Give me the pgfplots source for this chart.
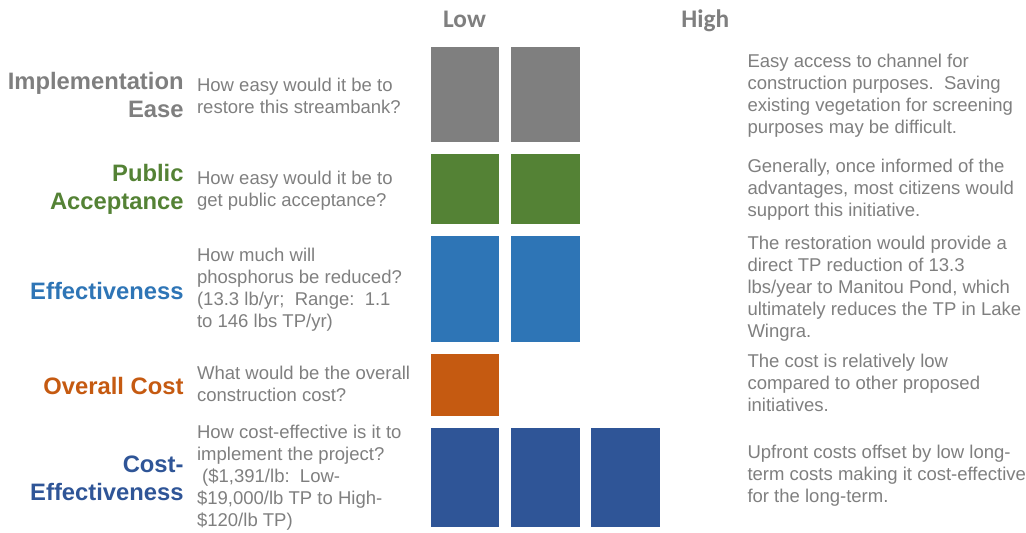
\documentclass[border=0pt]{standalone}
\usepackage{pgfplots}
\pgfplotsset{compat=1.18}
\usepackage{fontspec}
\setmainfont{Liberation Sans}
\newfontfamily\headfont{Carlito}

\definecolor{implc}{HTML}{7F7F7F}
\definecolor{pubc}{HTML}{548235}
\definecolor{effc}{HTML}{2E75B6}
\definecolor{costc}{HTML}{C55A11}
\definecolor{cec}{HTML}{2F5597}
\definecolor{txtc}{HTML}{7F7F7F}

\begin{document}
\begin{tikzpicture}
\begin{scope}[x=0.75pt,y=-0.75pt]
\useasboundingbox (0,0) rectangle (1026,533);
\end{scope}

% rating blocks: x in rating steps (each block 0.857 wide), y in rows from the top
\begin{axis}[at={(0,0)}, anchor=north west,
  x=60.375pt, y=0.75pt, xmin=-5.35404, xmax=7.39130, ymin=0, ymax=533,
  y dir=reverse, hide axis, clip=false]
  % Implementation Ease: 2
  \addplot[fill=implc, draw=none] coordinates {(0,47) (0.857,47) (0.857,142) (0,142)} -- cycle;
  \addplot[fill=implc, draw=none] coordinates {(1,47) (1.857,47) (1.857,142) (1,142)} -- cycle;
  % Public Acceptance: 2
  \addplot[fill=pubc, draw=none] coordinates {(0,154) (0.857,154) (0.857,224) (0,224)} -- cycle;
  \addplot[fill=pubc, draw=none] coordinates {(1,154) (1.857,154) (1.857,224) (1,224)} -- cycle;
  % Effectiveness: 2
  \addplot[fill=effc, draw=none] coordinates {(0,236) (0.857,236) (0.857,342) (0,342)} -- cycle;
  \addplot[fill=effc, draw=none] coordinates {(1,236) (1.857,236) (1.857,342) (1,342)} -- cycle;
  % Overall Cost: 1
  \addplot[fill=costc, draw=none] coordinates {(0,354) (0.857,354) (0.857,416) (0,416)} -- cycle;
  % Cost-Effectiveness: 3
  \addplot[fill=cec, draw=none] coordinates {(0,428) (0.857,428) (0.857,528) (0,528)} -- cycle;
  \addplot[fill=cec, draw=none] coordinates {(1,428) (1.857,428) (1.857,528) (1,528)} -- cycle;
  \addplot[fill=cec, draw=none] coordinates {(2,428) (2.857,428) (2.857,528) (2,528)} -- cycle;
\end{axis}

\begin{scope}[x=0.75pt,y=-0.75pt]
% column headers
\begin{scope}[every node/.style={anchor=base, inner sep=0pt, text=txtc,
    font=\headfont\bfseries\fontsize{19}{23}\selectfont}]
  \node at (465,28) {Low};
  \node at (706,28) {High};
\end{scope}

% criteria names
\begin{scope}[every node/.style={anchor=east, align=right, inner sep=0pt,
    font=\bfseries\fontsize{17.85}{21}\selectfont}]
  \node[text=implc] at (184,95) {Implementation\\Ease};
  \node[text=pubc]  at (184,190) {Public\\Acceptance};
  \node[text=effc]  at (184,291) {Effectiveness};
  \node[text=costc] at (184,386) {Overall Cost};
  \node[text=cec]   at (184,479) {Cost-\\Effectiveness};
\end{scope}

% questions
\begin{scope}[every node/.style={anchor=west, align=left, inner sep=0pt, text=txtc,
    font=\fontsize{13.9}{16.5}\selectfont}]
  \node at (197,96) {How easy would it be to\\restore this streambank?};
  \node at (197,191) {How easy would it be to\\get public acceptance?};
  \node at (197,290) {How much will\\phosphorus be reduced?\\(13.3 lb/yr;\ \ Range:\ \ 1.1\\to 146 lbs TP/yr)};
  \node at (197,384) {What would be the overall\\construction cost?};
  \node at (197,478) {How cost-effective is it to\\implement the project?\\\ (\$1,391/lb:\ \ Low-\\\$19,000/lb TP to High-\\\$120/lb TP)};
\end{scope}

% notes
\begin{scope}[every node/.style={anchor=west, align=left, inner sep=0pt, text=txtc,
    font=\fontsize{13.9}{16.5}\selectfont}]
  \node at (748,95.5) {Easy access to channel for\\construction purposes.\ \ Saving\\existing vegetation for screening\\purposes may be difficult.};
  \node at (748,189.5) {Generally, once informed of the\\advantages, most citizens would\\support this initiative.};
  \node at (748,289) {The restoration would provide a\\direct TP reduction of 13.3\\lbs/year to Manitou Pond, which\\ultimately reduces the TP in Lake\\Wingra.};
  \node at (748,383.5) {The cost is relatively low\\compared to other proposed\\initiatives.};
  \node at (748,476.5) {Upfront costs offset by low long-\\term costs making it cost-effective\\for the long-term.};
\end{scope}
\end{scope}
\end{tikzpicture}
\end{document}
